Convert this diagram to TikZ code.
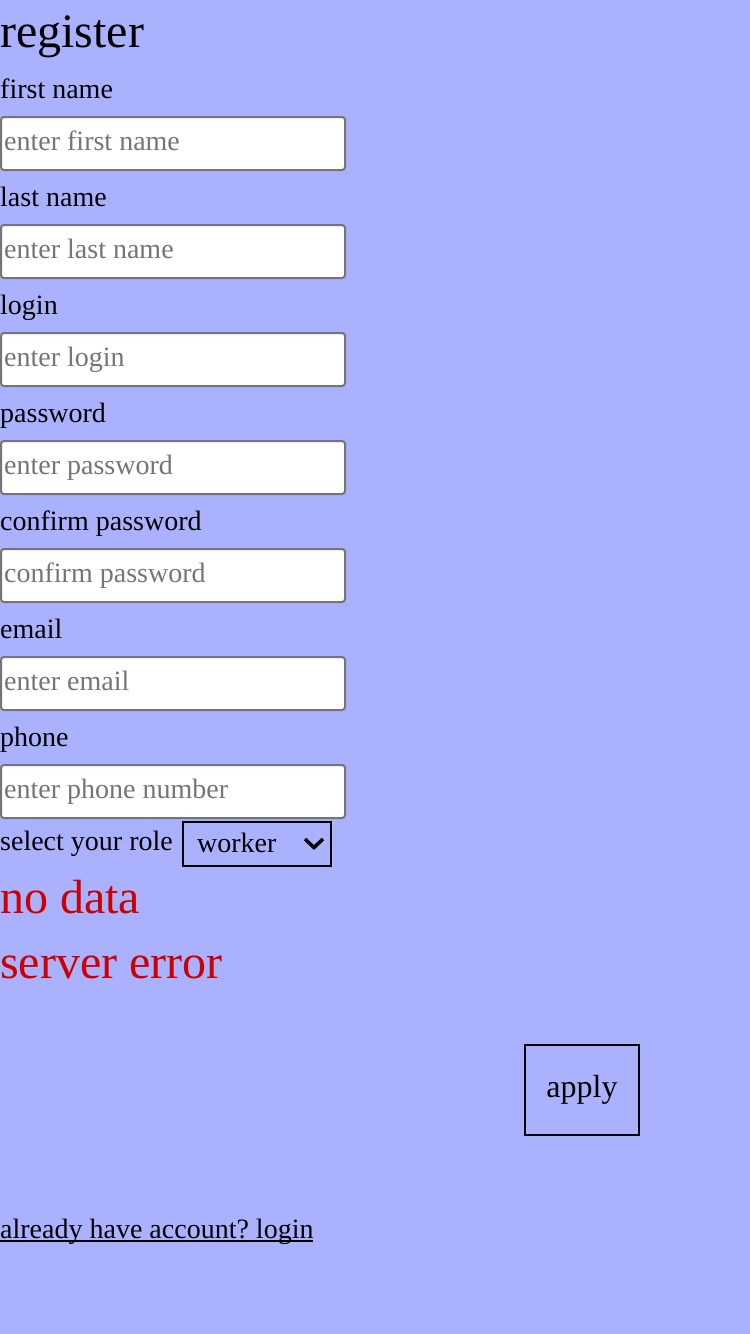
\documentclass[tikz,border=0pt]{standalone}
\usepackage{fontspec}
\setmainfont{Liberation Serif}
\definecolor{pagebg}{RGB}{170,178,255}
\definecolor{errred}{RGB}{204,0,0}
\definecolor{holdgray}{RGB}{117,117,117}
\begin{document}
\frenchspacing
\begin{tikzpicture}[x=1pt, y=-1pt,
    every node/.style={inner sep=0pt},
    lbl/.style={anchor=base west, font=\fontsize{28}{34}\selectfont},
    hint/.style={lbl, text=holdgray},
    big/.style={anchor=base west, font=\fontsize{48}{56}\selectfont},
    field/.style={anchor=north west, draw=holdgray, fill=white, line width=2pt,
      rounded corners=3pt, minimum width=344pt, minimum height=53pt}]
  \useasboundingbox (0,0) rectangle (750,1334);
  \fill[pagebg] (0,0) rectangle (750,1334);

  \node[big] (title) at (0,47) {register};

  \node[lbl] (fnl) at (0,98) {first name};
  \node[field] (fnf) at (0,116) {};
  \node[hint] (fnh) at (4,150) {enter first name};
  \node[lbl] (lnl) at (0,206) {last name};
  \node[field] (lnf) at (0,224) {};
  \node[hint] (lnh) at (4,258) {enter last name};
  \node[lbl] (lgl) at (0,314) {login};
  \node[field] (lgf) at (0,332) {};
  \node[hint] (lgh) at (4,366) {enter login};
  \node[lbl] (pwl) at (0,422) {password};
  \node[field] (pwf) at (0,440) {};
  \node[hint] (pwh) at (4,474) {enter password};
  \node[lbl] (cpl) at (0,530) {confirm password};
  \node[field] (cpf) at (0,548) {};
  \node[hint] (cph) at (4,582) {confirm password};
  \node[lbl] (eml) at (0,638) {email};
  \node[field] (emf) at (0,656) {};
  \node[hint] (emh) at (4,690) {enter email};
  \node[lbl] (phl) at (0,746) {phone};
  \node[field] (phf) at (0,764) {};
  \node[hint] (phh) at (4,798) {enter phone number};

  \node[lbl] (rl) at (0,850) {select your role};
  \node[anchor=north west, draw, line width=2pt, minimum width=148pt,
    minimum height=44pt] (rs) at (182,821) {};
  \node[lbl] (rv) at (197,852) {worker};
  \draw[line width=3.5pt] (305,839) -- (314,847.5) -- (323,839);

  \node[big, text=errred] (nd) at (0,913) {no data};
  \node[big, text=errred] (se) at (0,978) {server error};

  \node[anchor=north west, draw, line width=2pt, minimum width=114pt,
    minimum height=90pt] (ap) at (524,1044) {};
  \node[anchor=base, font=\fontsize{32}{38}\selectfont] (apt) at (582,1097) {apply};

  \node[lbl] (lk) at (0,1238) {already have account? login};
  \draw[line width=1.5pt] (lk.base west) ++(0,3) -- ++(313,0);
\end{tikzpicture}
\end{document}
